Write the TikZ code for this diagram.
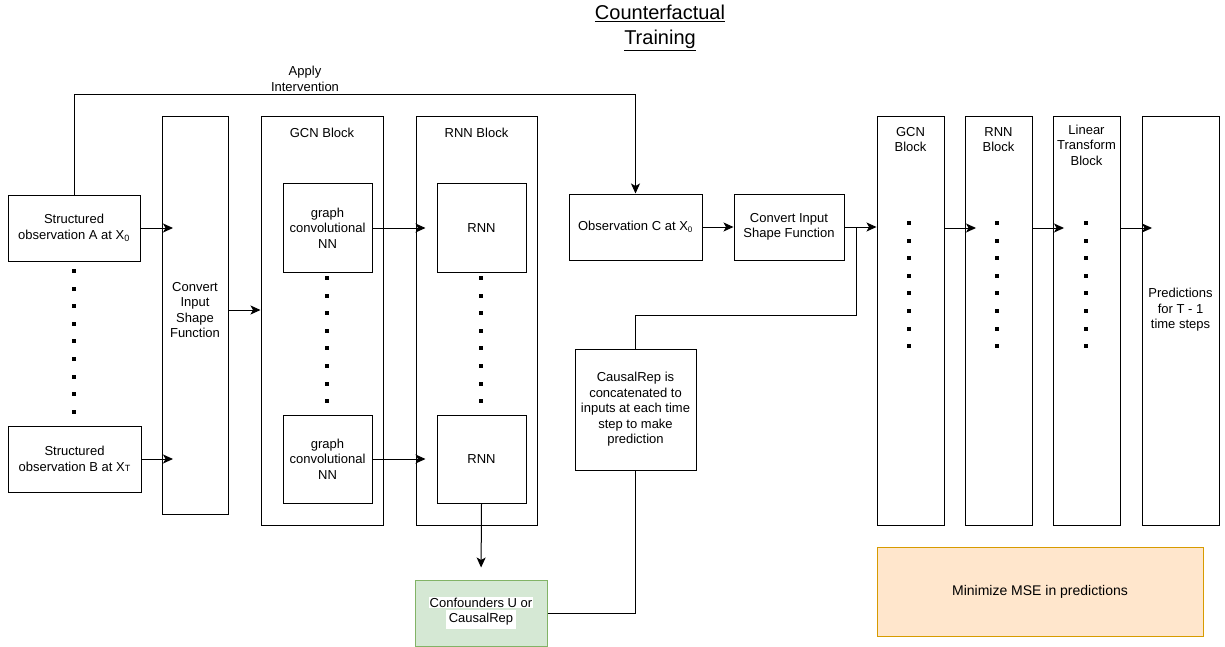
\documentclass[tikz,border=0pt]{standalone}
\usepackage{fontspec}
\setmainfont{Liberation Sans}
\usetikzlibrary{arrows.meta}
\newcommand{\fs}{\fontsize{13}{15.5}\selectfont}
\definecolor{greenfill}{HTML}{D5E8D4}
\definecolor{greenline}{HTML}{82B366}
\definecolor{orangefill}{HTML}{FFE6CC}
\definecolor{orangeline}{HTML}{D79B00}
\tikzset{
  box/.style={draw, rectangle, inner sep=0pt, line width=1pt, align=center, font=\fs},
  txt/.style={inner sep=0pt, align=center, font=\fs},
  arr/.style={-{Stealth[length=10pt,width=9pt,inset=2.5pt]}, line width=1pt},
  ln/.style={line width=1pt},
}
% \bx[opts]{name}{x1}{y1}{x2}{y2}{text}
\newcommand{\bx}[7][]{\node[box,#1,minimum width={#5pt-#3pt},minimum height={#6pt-#4pt}] (#2) at ({(#3+#5)/2},{(#4+#6)/2}) {#7};}
\newcommand{\dotcol}[3]{\foreach \k in {0,...,#3} {\fill ({#1-2},{#2+17.6*\k-2}) rectangle ++(4,4);}}
\begin{document}
\begin{tikzpicture}[x=1pt,y=-1pt]
\useasboundingbox (0,0) rectangle (1225,647);
% title
\node[inner sep=0pt, align=center, font=\fontsize{20}{25}\selectfont] (title) at (660,27.5) {\underline{Counterfactual}\\\underline{Training}};
\node[txt] (apply) at (305,79) {Apply\\Intervention};
% left part
\bx{A}{8}{195}{140}{261}{Structured\\observation A at X\textsubscript{0}}
\bx{B}{8}{426}{141}{492}{Structured\\observation B at X{\fontsize{9}{9}\selectfont T}}
\dotcol{74}{271}{8}
\bx{cv1}{162}{117}{228}{514}{}
\node[txt] (cv1t) at (195,310) {Convert\\Input\\Shape\\Function};
\bx{gcn}{261}{117}{383}{525}{}
\node[txt] (gcnL) at (322,133) {GCN Block};
\bx{g1u}{283}{184}{372}{272}{graph\\convolutional\\NN}
\bx{g1l}{283}{415}{372}{503}{graph\\convolutional\\NN}
\dotcol{326.5}{278}{7}
\bx{rnn}{416}{117}{537}{525}{}
\node[txt] (rnnL) at (476.5,133) {RNN Block};
\bx{r1u}{437}{184}{526}{272}{RNN}
\bx{r1l}{437}{415}{526}{503}{RNN}
\dotcol{480.5}{278}{7}
\bx[fill=greenfill, draw=greenline]{conf}{415}{580}{547}{646}{\setlength{\fboxsep}{0.5pt}\colorbox{white}{Confounders U or}\\\colorbox{white}{CausalRep}}
\bx{causal}{575}{349}{696}{470}{CausalRep is\\concatenated to\\inputs at each time\\step to make\\prediction}
\bx{C}{569}{194}{702}{260}{Observation C at X\textsubscript{\fontsize{8}{8}\selectfont 0}}
\bx{cv2}{734}{194}{844}{260}{Convert Input\\Shape Function}
% right part
\bx{gcn2}{877}{117}{944}{525}{}
\node[txt] (gcn2L) at (910.5,139.5) {GCN\\Block};
\bx{rnn2}{965}{117}{1032}{525}{}
\node[txt] (rnn2L) at (998.5,139.5) {RNN\\Block};
\bx{lin}{1053}{117}{1120}{525}{}
\node[txt] (linL) at (1086.5,145) {Linear\\Transform\\Block};
\bx{pred}{1142}{117}{1219}{525}{}
\node[txt] (predT) at (1180.5,310) {Predictions\\for T - 1\\time steps};
\dotcol{909}{223}{7}
\dotcol{997}{223}{7}
\dotcol{1086}{223}{7}
\bx[fill=orangefill, draw=orangeline]{mse}{877}{547}{1203}{636}{\fontsize{14}{17}\selectfont Minimize MSE in predictions}
% coordinates
\coordinate (iv) at (74,95);
\coordinate (a1) at (173,228);
\coordinate (b1) at (173,459);
\coordinate (jn) at (856,228);
\coordinate (r2i) at (976,228);
\coordinate (l2i) at (1064,228);
\coordinate (p2i) at (1152,228);
% connectors
\draw[arr] (A.north) -- (iv) -| (C.north);
\draw[arr] (A.east) -- (a1);
\draw[arr] (B.east) -- (b1);
\draw[arr] (cv1.east |- cv1t.center) -- (gcn.west |- cv1t.center);
\draw[arr] (g1u.east) -- ([xshift=-11pt]r1u.west);
\draw[arr] (g1l.east) -- ([xshift=-11pt]r1l.west);
\draw[arr, shorten >=12pt] (r1l.south) -- (conf.north);
\draw[ln] (conf.east) -| (causal.south);
\draw[ln] (causal.north) -- ++(0,-33) -| (jn);
\draw[arr] (C.east) -- (cv2.west);
\draw[arr] (cv2.east) -- (gcn2.west |- cv2.east);
\draw[arr] (gcn2.east |- jn) -- (r2i);
\draw[arr] (rnn2.east |- jn) -- (l2i);
\draw[arr] (lin.east |- jn) -- (p2i);
\end{tikzpicture}
\end{document}
